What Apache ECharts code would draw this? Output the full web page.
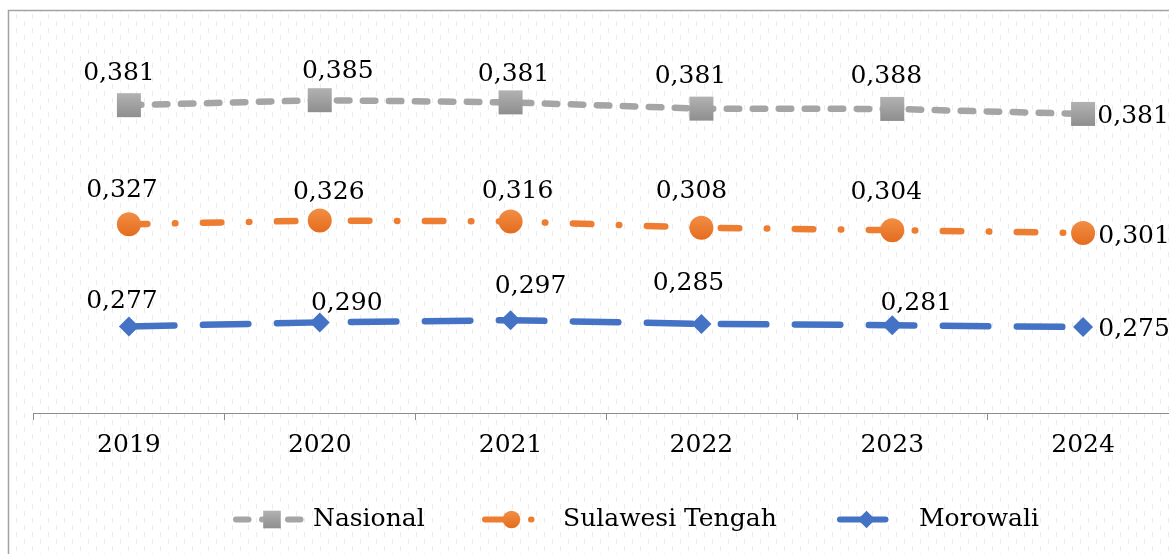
<!DOCTYPE html>
<html><head><meta charset="utf-8">
<script src="https://cdn.jsdelivr.net/npm/echarts@6/dist/echarts.min.js"></script>
<style>html,body{margin:0;padding:0;background:#fff}#c{width:1169px;height:554px}</style>
</head><body><div id="c"></div>
<script>
// ---- data ----
const years = ['2019', '2020', '2021', '2022', '2023', '2024'];
const nasional = [0.381, 0.385, 0.381, 0.381, 0.388, 0.381];
const sulawesiTengah = [0.327, 0.326, 0.316, 0.308, 0.304, 0.301];
const morowali = [0.277, 0.290, 0.297, 0.285, 0.281, 0.275];
const seriesNames = ['Nasional', 'Sulawesi Tengah', 'Morowali'];

// ---- label layout (offsets from the marker, px) ----
const offNas = [[-10, -32], [18, -29], [3, -28], [-11, -32], [-6, -32], [50, 3]];
const offSul = [[-7, -34], [9, -28], [7, -30], [-10, -36], [-6, -38], [51, 3]];
const offMor = [[-7, -25], [27, -19], [20, -34], [-13, -40], [24, -22], [51, 2]];

const FONT = 'DejaVu Serif';
const fmt = v => v.toFixed(3).replace('.', ',');

function withLabels(vals, offs) {
  return vals.map((v, i) => ({ value: v, label: { offset: offs[i] } }));
}

// background pattern
const pc = document.createElement('canvas');
pc.width = 16; pc.height = 14;
const g = pc.getContext('2d');
g.fillStyle = '#ffffff'; g.fillRect(0, 0, 16, 14);
g.fillStyle = '#ebebeb';
g.fillRect(0, 0, 1, 5);
g.fillRect(8, 7, 1, 5);

const grad = (a, b) => ({ type: 'linear', x: 0, y: 0, x2: 0, y2: 1,
  colorStops: [{ offset: 0, color: a }, { offset: 1, color: b }] });

const labelBase = {
  show: true, position: 'inside', align: 'center', verticalAlign: 'middle',
  fontFamily: FONT, fontSize: 25, color: '#000',
  formatter: p => fmt(p.value)
};

const legendText = { fontFamily: FONT, fontSize: 25, color: '#000' };

const chart = echarts.init(document.getElementById('c'), null, { renderer: 'canvas' });
chart.setOption({
  animation: false,
  backgroundColor: '#fff',
  graphic: [{
    type: 'rect', silent: true, z: -100,
    shape: { x: 8.5, y: 10.5, width: 1400, height: 800 },
    style: { fill: { image: pc, repeat: 'repeat' }, stroke: '#a3a3a3', lineWidth: 1.5 }
  }],
  grid: { left: 33.5, width: 1145, top: 38, bottom: 141, containLabel: false, outerBoundsMode: 'none' },
  xAxis: {
    type: 'category', data: years, boundaryGap: true,
    axisLine: { show: true, lineStyle: { color: '#8c8c8c', width: 1 } },
    axisTick: { show: true, length: 7, alignWithLabel: false, lineStyle: { color: '#8c8c8c' } },
    axisLabel: { fontFamily: FONT, fontSize: 25, color: '#000', margin: 20 },
    splitLine: { show: false }
  },
  yAxis: { type: 'value', min: 0, max: 1.2, show: false, splitLine: { show: false } },
  legend: [
    { data: [seriesNames[0]], left: 233, top: 507, padding: 0, itemWidth: 72, itemHeight: 22,
      lineStyle: { width: 6 }, textStyle: legendText },
    { data: [seriesNames[1]], left: 482, top: 507, padding: 0, itemWidth: 53, itemHeight: 22,
      lineStyle: { width: 6 }, textStyle: Object.assign({ padding: [0, 0, 0, 20] }, legendText) },
    { data: [seriesNames[2]], left: 837, top: 507, padding: 0, itemWidth: 53, itemHeight: 22,
      lineStyle: { width: 6 }, textStyle: Object.assign({ padding: [0, 0, 0, 21] }, legendText) }
  ],
  series: [
    {
      name: seriesNames[2], type: 'line', stack: 'total',
      data: withLabels(morowali, offMor),
      symbol: 'diamond', symbolSize: 20,
      itemStyle: { color: '#4472C4' },
      lineStyle: { color: '#4472C4', width: 6.5, type: [45.5, 28.5], cap: 'round' },
      label: labelBase, z: 3
    },
    {
      name: seriesNames[1], type: 'line', stack: 'total',
      data: withLabels(sulawesiTengah, offSul),
      symbol: 'circle', symbolSize: 24,
      itemStyle: { color: grad('#F28E45', '#E46C1E') },
      lineStyle: { color: '#ED7D31', width: 6.5, type: [18.5, 27.5, 0.5, 27.5], cap: 'round' },
      label: labelBase, z: 3
    },
    {
      name: seriesNames[0], type: 'line', stack: 'total',
      data: withLabels(nasional, offNas),
      symbol: 'rect', symbolSize: 24,
      itemStyle: { color: grad('#B2B2B2', '#8E8E8E') },
      lineStyle: { color: '#A5A5A5', width: 6.5, type: [12.5, 13.5], cap: 'round' },
      label: labelBase, z: 3
    }
  ]
});
</script></body></html>
